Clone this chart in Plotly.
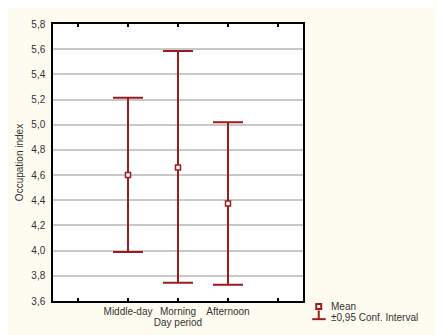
import plotly.graph_objects as go

categories = ["Middle-day", "Morning", "Afternoon"]
cat_pos = [1, 2, 3]
means = [4.60, 4.66, 4.375]
upper = [5.215, 5.585, 5.02]
lower = [3.99, 3.745, 3.73]
y_ticks = [3.6, 3.8, 4.0, 4.2, 4.4, 4.6, 4.8, 5.0, 5.2, 5.4, 5.6, 5.8]
y_tick_labels = [f"{v:.1f}".replace(".", ",") for v in y_ticks]

OFF = 8  # page body margin
W, H = 444 - OFF, 335 - OFF
L, R, T, B = 51.5 - OFF, 302.7 - OFF, 18 - OFF, 303.3 - OFF
pw, ph = R - L, B - T

def px(x):
    return (x - OFF - L) / pw

def py(y):
    return (B - (y - OFF)) / ph

RED = "#9c1c1c"
FONT = "Liberation Sans Narrow, Arial Narrow, sans-serif"
TXT = "#333333"
FS = 10

fig = go.Figure()
fig.add_trace(go.Scatter(
    x=cat_pos, y=means, mode="markers",
    marker=dict(symbol="square", size=5, color="white",
                line=dict(color=RED, width=1.5)),
    error_y=dict(type="data", symmetric=False,
                 array=[u - m for u, m in zip(upper, means)],
                 arrayminus=[m - l for m, l in zip(means, lower)],
                 color=RED, thickness=2, width=15),
    showlegend=False, cliponaxis=False))

shapes = [
    dict(type="rect", xref="paper", yref="paper", x0=0, x1=1, y0=0, y1=1,
         fillcolor="white", line=dict(width=0), layer="below"),
    # legend icons
    dict(type="line", xref="paper", yref="paper", x0=px(318.5), x1=px(318.5),
         y0=py(313), y1=py(322), line=dict(color=RED, width=2)),
    dict(type="line", xref="paper", yref="paper", x0=px(312), x1=px(325.5),
         y0=py(322), y1=py(322), line=dict(color=RED, width=2)),
    dict(type="rect", xref="paper", yref="paper", x0=px(316), x1=px(321),
         y0=py(311.5), y1=py(306.5), fillcolor="white",
         line=dict(color=RED, width=2)),
]

annotations = [
    dict(xref="paper", yref="paper", x=px(329), y=py(309), text="Mean",
         showarrow=False, xanchor="left", yanchor="middle",
         font=dict(family=FONT, size=FS, color=TXT)),
    dict(xref="paper", yref="paper", x=px(329), y=py(320),
         text="±0,95 Conf. Interval", showarrow=False, xanchor="left",
         yanchor="middle", font=dict(family=FONT, size=FS, color=TXT)),
]

fig.update_layout(
    width=W, height=H,
    margin=dict(l=L, r=W - R, t=T, b=H - B, pad=0),
    paper_bgcolor="#fefcf0", plot_bgcolor="rgba(0,0,0,0)",
    font=dict(family=FONT, size=FS, color=TXT),
    shapes=shapes, annotations=annotations,
    xaxis=dict(range=[-0.5, 4.5], tickvals=[0, 1, 2, 3, 4],
               ticktext=[""] + categories + [""],
               showgrid=False, zeroline=False, showline=True,
               linecolor="black", linewidth=1.5, mirror="ticks",
               ticks="inside", ticklen=3, tickcolor="black", tickwidth=1.5,
               title=dict(text="Day period", standoff=1,
                          font=dict(family=FONT, size=FS, color=TXT)),
               tickfont=dict(family=FONT, size=FS, color=TXT)),
    yaxis=dict(range=[3.6, 5.8], tickvals=y_ticks, ticktext=y_tick_labels,
               showgrid=True, gridcolor="#c8c8c8", gridwidth=1.5,
               zeroline=False, showline=True, linecolor="black",
               linewidth=1.5, mirror=True, ticks="",
               ticklabelstandoff=4,
               title=dict(text="Occupation index", standoff=6,
                          font=dict(family=FONT, size=FS, color=TXT)),
               tickfont=dict(family=FONT, size=FS, color=TXT)),
)

fig.write_html("out.html")
